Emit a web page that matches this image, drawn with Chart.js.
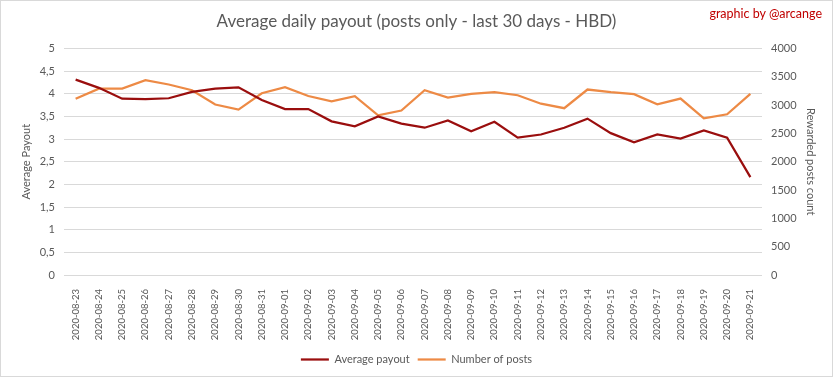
<!DOCTYPE html>
<html>
<head>
<meta charset="utf-8">
<script src="https://cdn.jsdelivr.net/npm/chart.js@4"></script>
<style>
  html, body { margin: 0; padding: 0; background: #fff; }
  #wrap { position: relative; width: 833px; height: 379px; }
  #frame { position: absolute; left: 0; top: 0; width: 831px; height: 375px; border: 1px solid #d9d9d9; pointer-events: none; }
  #credit { position: absolute; right: 11px; top: 6px; font: 12.5px Lato, "Open Sans", sans-serif; color: #c00000; }
</style>
</head>
<body>
<div id="wrap">
  <canvas id="grafiek" width="833" height="379"></canvas>
  <div id="frame"></div>
  <div id="credit">graphic by @arcange</div>
</div>
<script>
const dagen = ["2020-08-23", "2020-08-24", "2020-08-25", "2020-08-26", "2020-08-27", "2020-08-28", "2020-08-29", "2020-08-30", "2020-08-31",
    "2020-09-01", "2020-09-02", "2020-09-03", "2020-09-04", "2020-09-05", "2020-09-06", "2020-09-07", "2020-09-08", "2020-09-09",
    "2020-09-10", "2020-09-11", "2020-09-12", "2020-09-13", "2020-09-14", "2020-09-15", "2020-09-16", "2020-09-17", "2020-09-18",
    "2020-09-19", "2020-09-20", "2020-09-21"];
const gemiddeldeUitbetaling = [4.31, 4.13, 3.89, 3.88, 3.90, 4.04, 4.11, 4.14, 3.86, 3.66, 3.66, 3.39, 3.28, 3.50, 3.34, 3.25, 3.41, 3.17,
    3.38, 3.03, 3.10, 3.25, 3.45, 3.13, 2.93, 3.10, 3.01, 3.19, 3.03, 2.16];
const aantalPosts = [3110, 3288, 3292, 3439, 3363, 3262, 3009, 2920, 3209, 3315, 3160, 3067, 3156, 2820, 2903, 3262, 3133, 3198,
    3227, 3173, 3024, 2944, 3274, 3227, 3191, 3014, 3115, 2767, 2837, 3198];

const grijs = "#595959";
const font = "Lato, 'Open Sans', sans-serif";

const ctx = document.getElementById('grafiek').getContext('2d');
new Chart(ctx, {
    type: 'line',
    data: {
        labels: dagen,
        datasets: [
            {
                label: "Average payout",
                data: gemiddeldeUitbetaling,
                borderColor: "#9a0e0e",
                backgroundColor: "#9a0e0e",
                borderWidth: 2.25,
                pointRadius: 0,
                tension: 0,
                yAxisID: 'y'
            },
            {
                label: "Number of posts",
                data: aantalPosts,
                borderColor: "#ed8a45",
                backgroundColor: "#ed8a45",
                borderWidth: 2.25,
                pointRadius: 0,
                tension: 0,
                yAxisID: 'y2'
            }
        ]
    },
    options: {
        responsive: false,
        animation: false,
        layout: { padding: { left: 0, right: 0, top: 0, bottom: 4 } },
        scales: {
            x: {
                offset: true,
                grid: { display: false },
                border: { display: false },
                ticks: { color: grijs, font: { family: font, size: 9.5 }, minRotation: 90, maxRotation: 90, autoSkip: false, padding: 6 },
                afterFit: s => { s.height = 71; }
            },
            y: {
                position: 'left',
                min: 0, max: 5,
                grid: { color: "#d9d9d9", drawTicks: false },
                border: { display: false },
                ticks: { stepSize: 0.5, color: grijs, font: { family: font, size: 11 }, padding: 9,
                    callback: v => String(v).replace('.', ',') },
                title: { display: true, text: "Average Payout", color: grijs, font: { family: font, size: 11 }, padding: { top: 20, bottom: 0 } },
                afterFit: s => { s.width = 64; }
            },
            y2: {
                position: 'right',
                min: 0, max: 4000,
                grid: { display: false, drawTicks: false },
                border: { display: false },
                ticks: { stepSize: 500, color: grijs, font: { family: font, size: 11 }, padding: 9,
                    callback: v => String(v) },
                title: { display: true, text: "Rewarded posts count", color: grijs, font: { family: font, size: 11 }, padding: { top: 16, bottom: 0 } },
                afterFit: s => { s.width = 71; }
            }
        },
        plugins: {
            legend: {
                position: 'bottom',
                labels: { color: grijs, font: { family: font, size: 11 }, usePointStyle: true, pointStyle: 'line',
                    pointStyleWidth: 28, boxHeight: 10, padding: 8 }
            },
            title: {
                display: true,
                text: 'Average daily payout (posts only - last 30 days - HBD)',
                color: grijs,
                font: { family: font, size: 17, weight: 'normal' },
                padding: { top: 11, bottom: 17 }
            },
            tooltip: { enabled: false }
        }
    }
});
</script>
</body>
</html>
